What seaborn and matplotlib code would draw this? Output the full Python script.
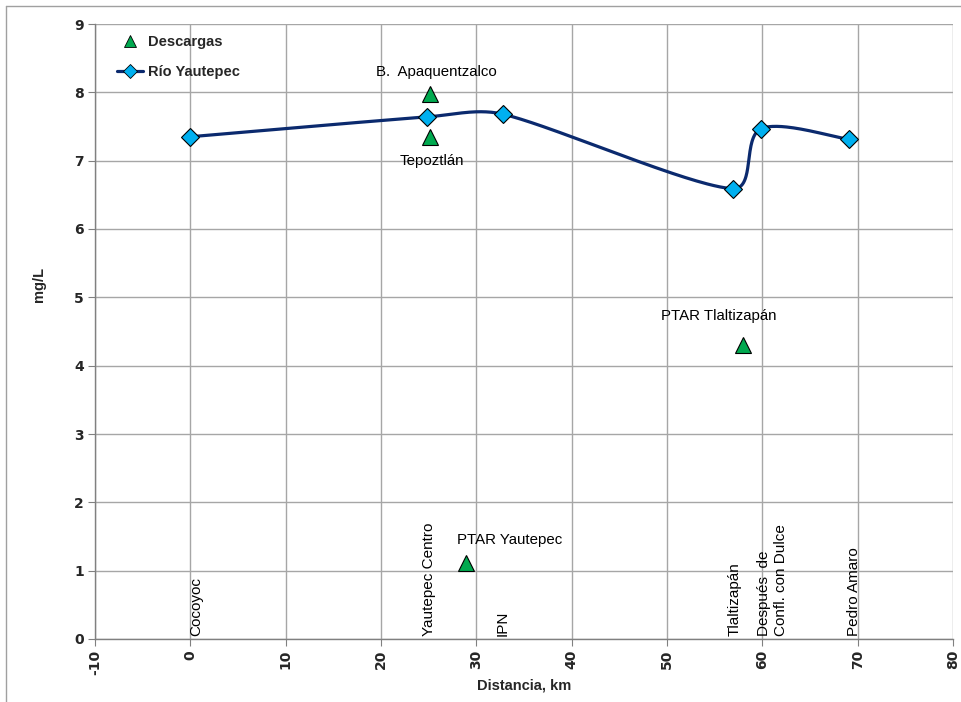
import numpy as np
import pandas as pd
import matplotlib
matplotlib.use("Agg")
import matplotlib.pyplot as plt
from matplotlib.lines import Line2D
import seaborn as sns

# river stations (distance km, mg/L)
sitios = ["Cocoyoc", "Yautepec Centro", "IPN", "Tlaltizapán",
          "Después  de\nConfl. con Dulce", "Pedro Amaro"]
dist_rio = [0.0, 24.8, 32.8, 56.9, 59.9, 69.1]
conc_rio = [7.35, 7.64, 7.68, 6.59, 7.47, 7.31]

# discharges
descargas = ["B.  Apaquentzalco", "Tepoztlán", "PTAR Yautepec", "PTAR Tlaltizapán"]
dist_desc = [25.1, 25.1, 28.9, 58.0]
conc_desc = [7.98, 7.34, 1.11, 4.30]

x_ticks = list(range(-10, 81, 10))
y_ticks = list(range(0, 10))

LINE = "#0B2A6E"
DIAMOND = "#00B0F0"
TRI = "#00A94F"
GRID = "#A6A6A6"

sns.set_theme(style="white")
plt.rcParams["font.family"] = ["Liberation Sans", "DejaVu Sans"]

fig = plt.figure(figsize=(9.61, 7.02), dpi=100)
W, H = 961, 702
ax = fig.add_axes([95 / W, 1 - 639 / H, (953 - 95) / W, (639 - 24) / H])


def excel_smooth(x, y, sx, sy, n=60, k=0.35):
    # bezier smoothing in screen-like units, handles clamped to segment length
    P = np.column_stack([np.array(x) * sx, np.array(y) * sy])
    out = [P[0]]
    for i in range(len(P) - 1):
        p0 = P[i - 1] if i > 0 else P[i]
        p1, p2 = P[i], P[i + 1]
        p3 = P[i + 2] if i + 2 < len(P) else P[i + 1]
        d12 = np.linalg.norm(p2 - p1)
        h1 = (p2 - p0) / 6.0
        h2 = (p3 - p1) / 6.0
        if np.linalg.norm(h1) > k * d12:
            h1 = h1 * k * d12 / np.linalg.norm(h1)
        if np.linalg.norm(h2) > k * d12:
            h2 = h2 * k * d12 / np.linalg.norm(h2)
        c1 = p1 + h1
        c2 = p2 - h2
        t = np.linspace(0, 1, n)[1:, None]
        seg = ((1 - t) ** 3) * p1 + 3 * ((1 - t) ** 2) * t * c1 + 3 * (1 - t) * t ** 2 * c2 + t ** 3 * p2
        out.extend(seg)
    out = np.array(out)
    return out[:, 0] / sx, out[:, 1] / sy


sx_, sy_ = excel_smooth(dist_rio, conc_rio, 9.53, 68.4)
curve = pd.DataFrame({"x": sx_, "y": sy_})
rio = pd.DataFrame({"x": dist_rio, "y": conc_rio})
desc = pd.DataFrame({"x": dist_desc, "y": conc_desc})

sns.lineplot(data=curve, x="x", y="y", ax=ax, color=LINE, linewidth=2.3,
             sort=False, estimator=None, zorder=3)
ax.plot(rio["x"], rio["y"], linestyle="none", marker="D", markersize=9,
        markerfacecolor=DIAMOND, markeredgecolor="black", markeredgewidth=0.8, zorder=4)
ax.plot(desc["x"], desc["y"], linestyle="none", marker="^", markersize=11.5,
        markerfacecolor=TRI, markeredgecolor="black", markeredgewidth=0.8, zorder=4)

# discharge labels
desc_off = [(7, 22), (2, -24), (44, 23), (-25, 29)]
for name, xv, yv, off in zip(descargas, dist_desc, conc_desc, desc_off):
    ax.annotate(name, (xv, yv), xytext=off, textcoords="offset pixels",
                ha="center", va="center", fontsize=10.8, color="black")

# station labels (rotated, at bottom)
sitio_dx = [0.6, 0.2, 0.0, 0.2, 1.2, 0.5]
for name, xv, dx in zip(sitios, dist_rio, sitio_dx):
    ax.text(xv + dx, 0.05, name, rotation=90, ha="center", va="bottom",
            fontsize=11, color="black", multialignment="left", linespacing=1.3)

ax.set_xlim(-10, 80)
ax.set_ylim(0, 9)
ax.set_xticks(x_ticks)
ax.set_yticks(y_ticks)
ax.set_xticklabels([str(v) for v in x_ticks], rotation=90, fontweight="bold",
                   fontsize=10, family="DejaVu Sans")
ax.set_yticklabels([str(v) for v in y_ticks], fontweight="bold", fontsize=10,
                   family="DejaVu Sans")
ax.tick_params(axis="both", length=5, width=0.8, color="#808080", direction="out",
               pad=3, bottom=True, left=True)
ax.grid(True, color=GRID, linewidth=1.0)
ax.set_axisbelow(True)
for side in ["top", "right"]:
    ax.spines[side].set_visible(False)
for side in ["left", "bottom"]:
    ax.spines[side].set_color("#808080")
    ax.spines[side].set_linewidth(1.0)

ax.set_xlabel("Distancia, km", fontweight="bold", fontsize=10.5, labelpad=2)
ax.set_ylabel("mg/L", fontweight="bold", fontsize=10.5)
ax.yaxis.set_label_coords(-0.057, 0.576)

handles = [
    Line2D([], [], linestyle="none", marker="^", markersize=8.5, markerfacecolor=TRI,
           markeredgecolor="black", markeredgewidth=0.6),
    Line2D([], [], color=LINE, linewidth=2.3, marker="D", markersize=7,
           markerfacecolor=DIAMOND, markeredgecolor="black", markeredgewidth=0.6),
]
leg = ax.legend(handles, ["Descargas", "Río Yautepec"], loc="upper left",
                bbox_to_anchor=(0.0256, 0.982), frameon=False, handlelength=1.8,
                handletextpad=0.3, labelspacing=1.12, borderpad=0, borderaxespad=0,
                prop={"weight": "bold", "size": 10.5})

# chart area border (top & left)
fig.add_artist(Line2D([6 / W, 1], [1 - 6 / H, 1 - 6 / H], color="#A0A0A0", linewidth=1.0))
fig.add_artist(Line2D([6 / W, 6 / W], [0, 1 - 6 / H], color="#A0A0A0", linewidth=1.0))

fig.savefig("out.png", dpi=100)
